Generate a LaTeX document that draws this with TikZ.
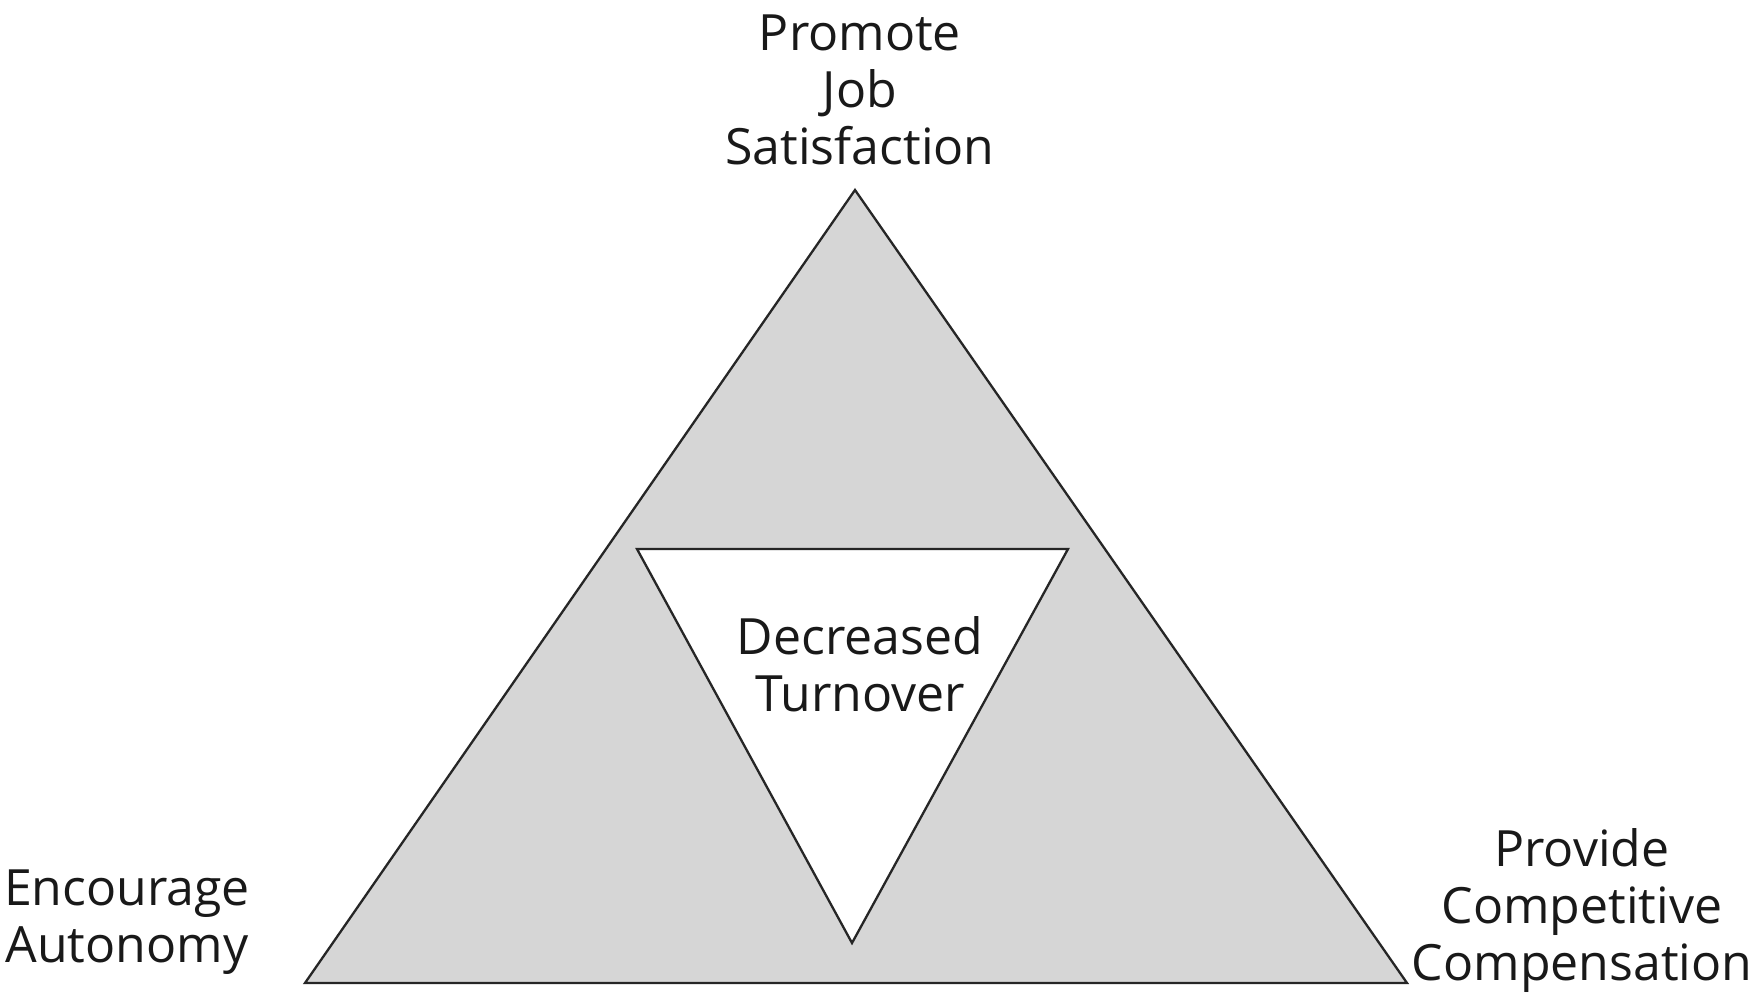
\documentclass[tikz,border=0pt]{standalone}
\usepackage{fontspec}
\setmainfont{Open Sans}
\begin{document}
\begin{tikzpicture}[x=1pt,y=-1pt,
  lbl/.style={align=center,font=\fontsize{50}{57}\selectfont,inner sep=0pt,text=black!90},
  outertri/.style={draw=black!85,line width=2.3pt,fill=black!16,line join=miter},
  innertri/.style={draw=black!85,line width=2.3pt,fill=white,line join=miter}]
\useasboundingbox (0,0) rectangle (1754,998);
\fill[white] (0,0) rectangle (1754,998);
\coordinate (apex) at (855,190);
\coordinate (bl) at (305,983);
\coordinate (br) at (1407,983);
\coordinate (itl) at (637,549);
\coordinate (itr) at (1068,549);
\coordinate (ib) at (852,943);
\draw[outertri] (apex) -- (br) -- (bl) -- cycle;
\draw[innertri] (itl) -- (itr) -- (ib) -- cycle;
\node[lbl] (top) at (860,90) {Promote\\Job\\Satisfaction};
\node[lbl] (mid) at (860,664) {Decreased\\Turnover};
\node[lbl] (left) at (127,922) {Encourage\\Autonomy};
\node[lbl] (right) at (1582,911) {Provide\\Competitive\\Compensation};
\end{tikzpicture}
\end{document}
